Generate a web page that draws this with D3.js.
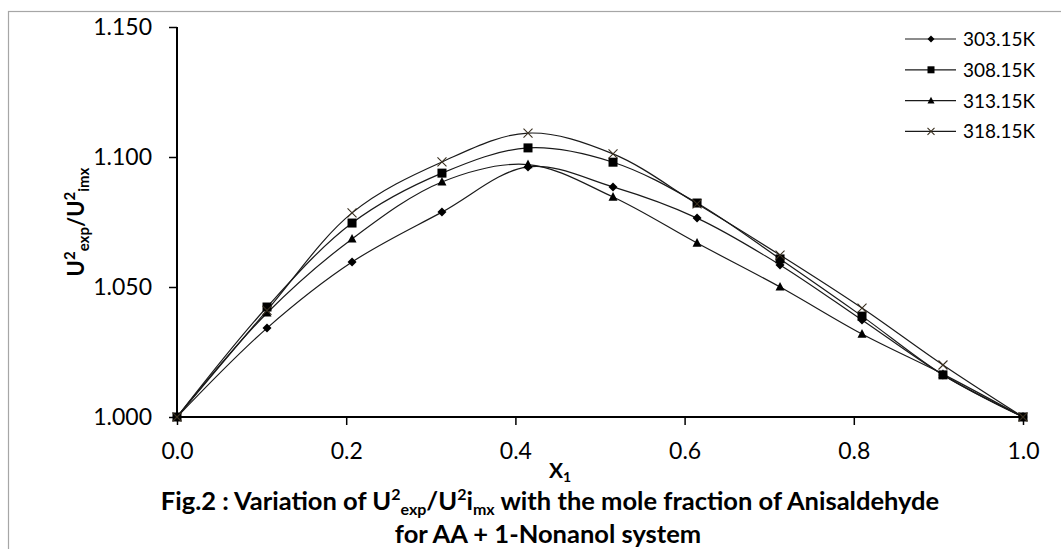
<!DOCTYPE html>
<html>
<head>
<meta charset="utf-8">
<script src="https://cdn.jsdelivr.net/npm/d3@7"></script>
<style>
    body { margin: 0; background: #fff; }
    svg { display: block; font-family: Lato, "Open Sans", sans-serif; }
</style>
</head>
<body>
<div id="chart"></div>
<script>
// mole fraction of anisaldehyde
const moleFraction = [0, 0.1064, 0.2069, 0.3132, 0.4149, 0.5154, 0.6147, 0.7128, 0.8097, 0.9054, 1.0];

// U2exp / U2imx at each temperature
const ratio303 = [1.000, 1.0342, 1.0596, 1.0788, 1.0962, 1.0885, 1.0765, 1.0585, 1.0373, 1.0162, 1.000];
const ratio308 = [1.000, 1.0423, 1.0746, 1.0938, 1.1035, 1.0980, 1.0823, 1.0608, 1.0388, 1.0162, 1.000];
const ratio313 = [1.000, 1.0400, 1.0685, 1.0904, 1.0971, 1.0846, 1.0669, 1.0500, 1.0319, 1.0165, 1.000];
const ratio318 = [1.000, 1.0410, 1.0785, 1.0981, 1.1092, 1.1012, 1.0820, 1.0623, 1.0419, 1.0200, 1.000];

const seriesNames = ['303.15K', '308.15K', '313.15K', '318.15K'];
const seriesMarkers = ['diamond', 'square', 'triangle', 'cross'];
const xTicks = [0, 0.2, 0.4, 0.6, 0.8, 1.0];
const yTicks = [1.000, 1.050, 1.100, 1.150];

const series = [ratio303, ratio308, ratio313, ratio318].map((vals, i) => ({
    name: seriesNames[i],
    marker: seriesMarkers[i],
    points: vals.map((v, j) => ({ x: moleFraction[j], y: v }))
}));

const width = 1061, height = 549;
const plot = { left: 177, right: 1023, top: 27, bottom: 417 };

const svg = d3.select('#chart').append('svg')
    .attr('width', width)
    .attr('height', height);

// outer chart frame (only top and left are inside the picture)
svg.append('rect')
    .attr('x', 8.5).attr('y', 11.5)
    .attr('width', width + 20).attr('height', height + 20)
    .attr('fill', 'none')
    .attr('stroke', '#a6a6a6')
    .attr('stroke-width', 1.2);

const x = d3.scaleLinear().domain([0, 1]).range([plot.left, plot.right]);
const y = d3.scaleLinear().domain([1.0, 1.15]).range([plot.bottom, plot.top]);

// axes
const xAxis = svg.append('g')
    .attr('transform', `translate(0,${plot.bottom})`)
    .call(d3.axisBottom(x).tickValues(xTicks).tickFormat(d3.format('.1f')).tickSize(8).tickPadding(18));
const yAxis = svg.append('g')
    .attr('transform', `translate(${plot.left},0)`)
    .call(d3.axisLeft(y).tickValues(yTicks).tickFormat(d3.format('.3f')).tickSize(8).tickPadding(17));

[xAxis, yAxis].forEach(ax => {
    ax.select('.domain').attr('stroke', '#000').attr('stroke-width', 2);
    ax.selectAll('.tick line').attr('stroke', '#000').attr('stroke-width', 1.5);
    ax.selectAll('.tick text')
        .attr('fill', '#000')
        .style('font-size', '23px')
        .style('font-family', 'Lato, "Open Sans", sans-serif');
});
xAxis.select('.domain').attr('d', `M${plot.left},0H${plot.right}`);
yAxis.select('.domain').attr('d', `M0,${plot.bottom}V${plot.top}`);

// smoothed lines
const line = d3.line()
    .x(d => x(d.x))
    .y(d => y(d.y))
    .curve(d3.curveCatmullRom.alpha(0.5));

svg.append('g').selectAll('path')
    .data(series)
    .enter()
    .append('path')
    .attr('d', d => line(d.points))
    .attr('fill', 'none')
    .attr('stroke', '#1a1a1a')
    .attr('stroke-width', 1.2);

function drawMarker(g, type, size) {
    const s = size / 2;
    if (type === 'diamond') {
        g.append('path').attr('d', `M0,${-s}L${s},0L0,${s}L${-s},0Z`).attr('fill', '#000');
    } else if (type === 'square') {
        g.append('rect').attr('x', -s).attr('y', -s).attr('width', size).attr('height', size).attr('fill', '#000');
    } else if (type === 'triangle') {
        g.append('path').attr('d', `M0,${-s * 1.1}L${s},${s * 0.8}L${-s},${s * 0.8}Z`).attr('fill', '#000');
    } else {
        g.append('path').attr('d', `M${-s},${-s}L${s},${s}M${-s},${s}L${s},${-s}`)
            .attr('stroke', '#3a3020').attr('stroke-width', 1.1).attr('fill', 'none');
    }
}

const markerSize = { diamond: 9, square: 9, triangle: 9, cross: 9 };

series.forEach(s => {
    const g = svg.append('g');
    s.points.forEach(p => {
        const m = g.append('g').attr('transform', `translate(${x(p.x)},${y(p.y)})`);
        drawMarker(m, s.marker, markerSize[s.marker]);
    });
});

// legend
const legend = svg.append('g').attr('transform', 'translate(905,39)');
series.forEach((s, i) => {
    const row = legend.append('g').attr('transform', `translate(0,${i * 30.8})`);
    row.append('line')
        .attr('x1', 0).attr('x2', 51)
        .attr('stroke', '#1a1a1a').attr('stroke-width', 1.2);
    const m = row.append('g').attr('transform', 'translate(26,0)');
    drawMarker(m, s.marker, 7);
    row.append('text')
        .attr('x', 58).attr('y', 7)
        .style('font-size', '19px')
        .attr('fill', '#000')
        .text(s.name);
});

// y-axis title
const yTitle = svg.append('text')
    .attr('transform', 'translate(84,222) rotate(-90)')
    .attr('text-anchor', 'middle')
    .style('font-size', '22px')
    .style('font-weight', 'bold');
yTitle.append('tspan').text('U');
yTitle.append('tspan').attr('dy', -9).style('font-size', '15px').text('2');
yTitle.append('tspan').attr('dy', 14).style('font-size', '15px').text('exp');
yTitle.append('tspan').attr('dy', -5).text('/U');
yTitle.append('tspan').attr('dy', -9).style('font-size', '15px').text('2');
yTitle.append('tspan').attr('dy', 14).style('font-size', '15px').text('imx');

// x-axis title
const xTitle = svg.append('text')
    .attr('x', 560).attr('y', 478)
    .attr('text-anchor', 'middle')
    .style('font-size', '21px')
    .style('font-weight', 'bold');
xTitle.append('tspan').text('X');
xTitle.append('tspan').attr('dy', 4).style('font-size', '14px').text('1');

// caption
const cap1 = svg.append('text')
    .attr('x', 550).attr('y', 510)
    .attr('text-anchor', 'middle')
    .style('font-size', '25.5px')
    .style('font-weight', 'bold');
cap1.append('tspan').text('Fig.2 : Variation of U');
cap1.append('tspan').attr('dy', -10).style('font-size', '16px').text('2');
cap1.append('tspan').attr('dy', 15).style('font-size', '16px').text('exp');
cap1.append('tspan').attr('dy', -5).text('/U');
cap1.append('tspan').attr('dy', -10).style('font-size', '16px').text('2');
cap1.append('tspan').attr('dy', 10).text('i');
cap1.append('tspan').attr('dy', 5).style('font-size', '16px').text('mx');
cap1.append('tspan').attr('dy', -5).text(' with the mole fraction of Anisaldehyde');

svg.append('text')
    .attr('x', 548).attr('y', 543)
    .attr('text-anchor', 'middle')
    .style('font-size', '25.5px')
    .style('font-weight', 'bold')
    .text('for AA + 1-Nonanol system');
</script>
</body>
</html>
